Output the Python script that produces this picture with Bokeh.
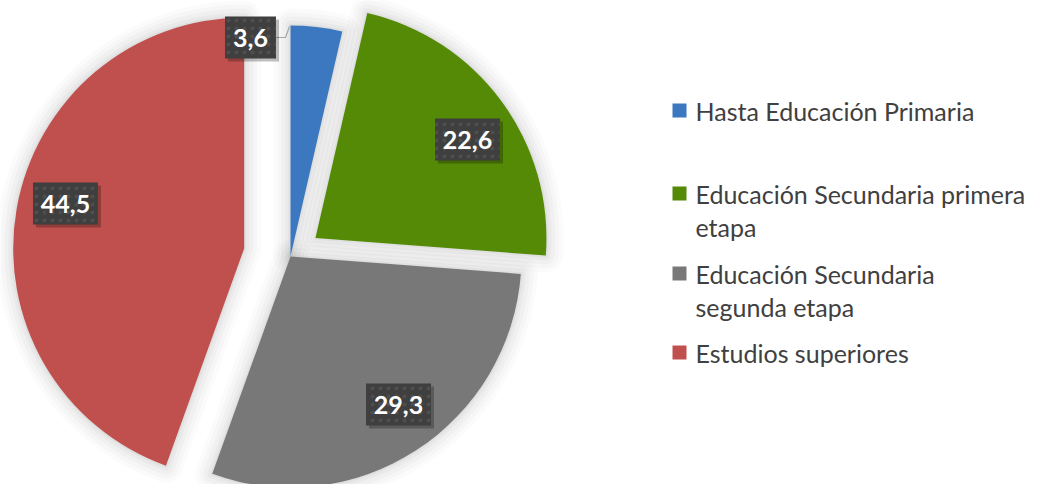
import numpy as np
from bokeh.plotting import figure
from bokeh.models import Range1d
from bokeh.core.properties import value
from bokeh.embed import file_html
from bokeh.resources import INLINE

# ---- data ----
categories = ["Hasta Educación Primaria",
              "Educación Secundaria primera etapa",
              "Educación Secundaria segunda etapa",
              "Estudios superiores"]
legend_lines = [["Hasta Educación Primaria"],
                ["Educación Secundaria primera", "etapa"],
                ["Educación Secundaria", "segunda etapa"],
                ["Estudios superiores"]]
values = [3.6, 22.6, 29.3, 44.5]
labels = ["3,6", "22,6", "29,3", "44,5"]
colors = ["#3C78BF", "#558A06", "#787878", "#C0504D"]

# ---- layout ----
W, H = 1038, 484


def Y(py):
    return 484 - py


p = figure(width=W, height=H, x_range=Range1d(0, W), y_range=Range1d(Y(H), Y(0)),
           output_backend="svg", toolbar_location=None, x_axis_type=None, y_axis_type=None,
           min_border=0)
p.grid.visible = False
p.outline_line_color = None
p.background_fill_color = "white"
p.border_fill_color = "white"

cx, cy = 290, Y(256)
R = 231
explode = [0, 31, 0, 47]
total = sum(values)
cum = np.cumsum([0] + values) / total * 360.0

centers = []
polys_x, polys_y = [], []
for i in range(len(values)):
    t1, t2 = cum[i], cum[i + 1]
    mid = np.radians((t1 + t2) / 2)
    ox = cx + explode[i] * np.sin(mid)
    oy = cy + explode[i] * np.cos(mid)
    centers.append((ox, oy, mid))
    th = np.radians(np.linspace(t1, t2, 80))
    polys_x.append([ox] + list(ox + R * np.sin(th)))
    polys_y.append([oy] + list(oy + R * np.cos(th)))

# soft glow around slices
for lw, a in [(34, 0.016), (26, 0.018), (18, 0.022), (10, 0.028), (4, 0.035)]:
    p.patches(polys_x, polys_y, fill_alpha=0, line_color="black", line_alpha=a,
              line_width=lw, line_join="round")

for i in range(len(values)):
    ox, oy, mid = centers[i]
    p.wedge(x=ox, y=oy, radius=R, start_angle=90 - cum[i + 1], end_angle=90 - cum[i],
            start_angle_units="deg", end_angle_units="deg",
            fill_color=colors[i], line_color=None)

# ---- data labels (page positions of label boxes) ----
label_pos = [(250, 37), (467, 139), (398, 404), (65, 203)]
lab_x = [q[0] for q in label_pos]
lab_y = [Y(q[1]) for q in label_pos]
lab_w = [14 * len(s) + 9 for s in labels]

# leader line for the small slice
p.line([lab_x[0] + lab_w[0] / 2, 285, 289], [lab_y[0], lab_y[0], Y(26)], line_color="#A6A6A6",
       line_width=1.2)

p.rect(x=[x + 3 for x in lab_x], y=[y - 3 for y in lab_y], width=lab_w, height=42,
       width_units="screen", height_units="screen", fill_color="black", fill_alpha=0.25,
       line_color=None)
p.rect(x=lab_x, y=lab_y, width=lab_w, height=42, width_units="screen", height_units="screen",
       fill_color="#3F3F3F", line_color=None, hatch_pattern="dot", hatch_color="#4E4E4E",
       hatch_scale=8, hatch_weight=1)
p.text(x=lab_x, y=lab_y, text=labels, text_color="white", text_font=value("Lato"),
       text_font_size="25px", text_font_style="bold", text_align="center",
       text_baseline="middle")

# ---- legend ----
row_y = [110, 193, 273, 352]
line_gap = 33
for i, lines in enumerate(legend_lines):
    p.rect(x=679, y=Y(row_y[i]), width=14, height=14, width_units="screen",
           height_units="screen", fill_color=colors[i], line_color=None)
    p.text(x=[695] * len(lines), y=[Y(row_y[i] + k * line_gap) for k in range(len(lines))],
           text=lines, text_color="#404040", text_font=value("Lato"), text_font_size="25px",
           text_align="left", text_baseline="middle")

open("out.html", "w").write(file_html(p, INLINE))
